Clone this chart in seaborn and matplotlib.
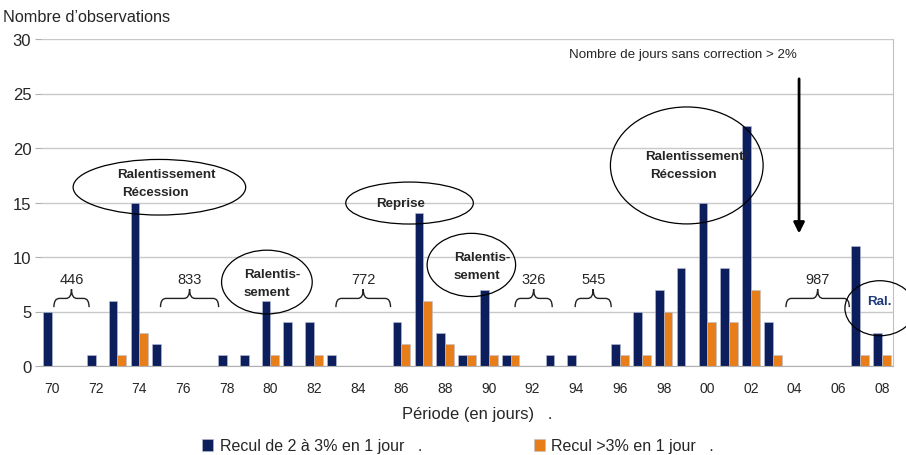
import matplotlib
matplotlib.use("Agg")
import numpy as np
import pandas as pd
import matplotlib.pyplot as plt
import seaborn as sns
from matplotlib.patches import Ellipse, PathPatch
from matplotlib.path import Path

# data (1970 -> 2008)
years = ["70", "71", "72", "73", "74", "75", "76", "77", "78", "79",
         "80", "81", "82", "83", "84", "85", "86", "87", "88", "89",
         "90", "91", "92", "93", "94", "95", "96", "97", "98", "99",
         "00", "01", "02", "03", "04", "05", "06", "07", "08"]
recul_2_3 = [5, 0, 1, 6, 15, 2, 0, 0, 1, 1,
             6, 4, 4, 1, 0, 0, 4, 14, 3, 1,
             7, 1, 0, 1, 1, 0, 2, 5, 7, 9,
             15, 9, 22, 4, 0, 0, 0, 11, 3]
recul_3 = [0, 0, 0, 1, 3, 0, 0, 0, 0, 0,
           1, 0, 1, 0, 0, 0, 2, 6, 2, 1,
           1, 1, 0, 0, 0, 0, 1, 1, 5, 0,
           4, 4, 7, 1, 0, 0, 0, 1, 1]
series_names = ["Recul de 2 à 3% en 1 jour   .", "Recul >3% en 1 jour   ."]
tick_labels = years[::2]

# bracket labels: (start, end, text) on category index
gaps = [(0.09, 1.7, "446"), (4.97, 7.63, "833"), (13.0, 15.5, "772"),
        (21.2, 22.9, "326"), (23.95, 25.6, "545"), (33.6, 36.5, "987")]

navy = "#0c1f5c"
orange = "#e87e1a"

df = pd.DataFrame({
    "annee": years * 2,
    "n": recul_2_3 + recul_3,
    "serie": [series_names[0]] * len(years) + [series_names[1]] * len(years),
})

sns.set_style("white")
plt.rcParams["font.family"] = ["Liberation Sans", "DejaVu Sans"]

fig = plt.figure(figsize=(9.06, 4.56), dpi=100)
ax = fig.add_axes([41 / 906, 89 / 456, 852 / 906, 327 / 456])

sns.barplot(data=df, x="annee", y="n", hue="serie", order=years,
            palette=[navy, orange], saturation=1, width=0.8, edgecolor="#b8c0d8",
            linewidth=0.4, ax=ax, legend=True)

ax.set_xlim(-0.5, len(years) - 0.5)
ax.set_ylim(0, 30)
ax.set_yticks(range(0, 31, 5))
ax.set_xticks(range(0, len(years), 2))
ax.set_xticklabels(tick_labels, fontsize=10)
ax.tick_params(axis="x", length=0, pad=11)
ax.tick_params(axis="y", labelsize=12, length=4, color="#b0b0b0", pad=3, left=True)
ax.grid(axis="y", color="#c8c8c8", linewidth=1)
ax.set_axisbelow(True)
for s in ["left", "top"]:
    ax.spines[s].set_visible(False)
ax.spines["bottom"].set_color("#b0b0b0")
ax.spines["right"].set_color("#c0c0c0")
ax.set_xlabel("")
ax.set_ylabel("")

fig.text(3 / 906, 1 - 18 / 456, "Nombre d\u2019observations", fontsize=11.7, va="center")
fig.text(477 / 906, 1 - 414 / 456, "Période (en jours)   .", fontsize=11.9,
         ha="center", va="center")

# legend at the bottom
handles, labels = ax.get_legend_handles_labels()
ax.get_legend().remove()
fig.legend(handles, labels, loc="center", bbox_to_anchor=(458 / 906, 1 - 447 / 456),
           ncol=2, frameon=False, fontsize=11.5, handlelength=0.7, handleheight=0.7,
           handletextpad=0.4, columnspacing=7.0)


def brace(x0, x1, yb=5.4, yh=6.2, yt=7.06, c=0.25):
    xm = (x0 + x1) / 2
    verts = [(x0, yb), (x0, yh), (x0 + c, yh),
             (xm - c, yh),
             (xm, yh), (xm, yt),
             (xm, yh), (xm + c, yh),
             (x1 - c, yh),
             (x1, yh), (x1, yb)]
    codes = [Path.MOVETO, Path.CURVE3, Path.CURVE3,
             Path.LINETO,
             Path.CURVE3, Path.CURVE3,
             Path.CURVE3, Path.CURVE3,
             Path.LINETO,
             Path.CURVE3, Path.CURVE3]
    ax.add_patch(PathPatch(Path(verts, codes), fill=False, lw=1, edgecolor="#222222"))


for x0, x1, txt in gaps:
    brace(x0, x1)
    ax.text((x0 + x1) / 2, 8.0, txt, ha="center", va="center", fontsize=10.5)

# ellipses + phase labels
ellipses = [(4.92, 16.4, 7.9, 5.1), (9.84, 7.7, 4.15, 5.85), (16.37, 14.95, 5.84, 3.85),
            (19.2, 9.27, 4.05, 5.8), (29.06, 18.4, 6.99, 10.73), (37.9, 5.3, 3.2, 5.05)]
for cx, cy, w, h in ellipses:
    ax.add_patch(Ellipse((cx, cy), w, h, fill=False, edgecolor="black", lw=0.9,
                         clip_on=False, zorder=4))

bold = dict(fontsize=9.6, fontweight="bold", va="center", ha="left", zorder=5)
ax.text(2.99, 17.6, "Ralentissement", **bold)
ax.text(3.22, 16.0, "Récession", **bold)
ax.text(8.78, 8.44, "Ralentis-", **bold)
ax.text(8.78, 6.75, "sement", **bold)
ax.text(15.95, 15.0, "Reprise", fontsize=9.6, fontweight="bold", va="center", ha="center")
ax.text(18.4, 10.0, "Ralentis-", **bold)
ax.text(18.4, 8.35, "sement", **bold)
ax.text(27.17, 19.27, "Ralentissement/", **bold)
ax.text(27.4, 17.6, "Récession", **bold)
ax.text(37.3, 5.96, "Ral.", color="#1f3a7a", **bold)

ax.text(28.9, 28.6, "Nombre de jours sans correction > 2%", fontsize=9.6,
        ha="center", va="center")
ax.annotate("", xy=(34.2, 11.9), xytext=(34.2, 26.6),
            arrowprops=dict(arrowstyle="-|>", lw=2, color="black", mutation_scale=16))

fig.savefig("out.png", dpi=100)
